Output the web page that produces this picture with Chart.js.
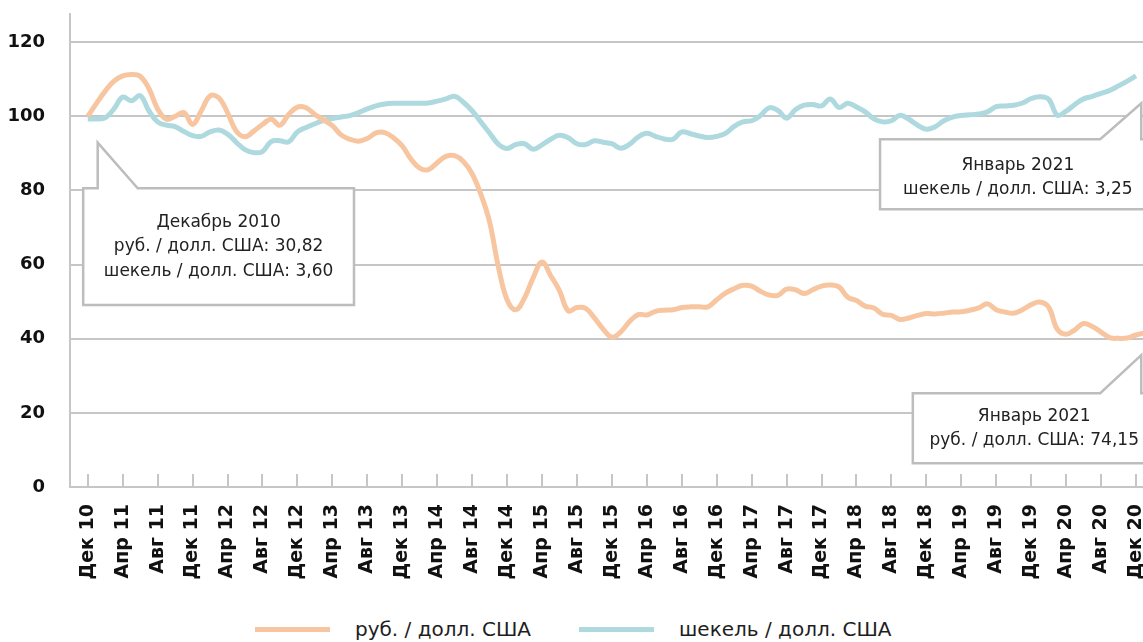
<!DOCTYPE html>
<html>
<head>
<meta charset="utf-8">
<script src="https://cdn.jsdelivr.net/npm/chart.js@4.4.1/dist/chart.umd.min.js"></script>
<style>
  body { margin: 0; background: #fff; }
  #wrap { position: relative; width: 1143px; height: 642px; overflow: hidden; }
  #legend { position: absolute; left: 255px; top: 617px; display: flex; align-items: center;
            font: 20px "DejaVu Sans", sans-serif; color: #1e1e1e; white-space: nowrap; }
  .sw { width: 75px; height: 5px; margin-right: 25px; }
  .gap { width: 48px; }
</style>
</head>
<body>
<div id="wrap">
  <canvas id="myChart" width="1143" height="600"></canvas>
  <div id="legend">
    <span class="sw" style="background:#F7C6A0"></span><span>руб. / долл. США</span>
    <span class="gap"></span>
    <span class="sw" style="background:#ADD9DF"></span><span>шекель / долл. США</span>
  </div>
</div>
<script>
// x labels every 4 months, month index 0 = Dec 2010
const xLabels = ['Дек 10', 'Апр 11', 'Авг 11', 'Дек 11', 'Апр 12', 'Авг 12', 'Дек 12', 'Апр 13', 'Авг 13', 'Дек 13',
    'Апр 14', 'Авг 14', 'Дек 14', 'Апр 15', 'Авг 15', 'Дек 15', 'Апр 16', 'Авг 16', 'Дек 16', 'Апр 17',
    'Авг 17', 'Дек 17', 'Апр 18', 'Авг 18', 'Дек 18', 'Апр 19', 'Авг 19', 'Дек 19', 'Апр 20', 'Авг 20', 'Дек 20'];
const yTicks = [0, 20, 40, 60, 80, 100, 120];

// index, Dec 2010 = 100 (monthly)
const rub = [
    100, 103.5, 106.8, 109.5, 110.9, 111.3, 110.8, 107.5, 102, 99.2,
    100, 101, 97.8, 101.5, 105.5, 105, 101, 96, 94.5, 96,
    97.8, 99.2, 97.6, 100.5, 102.5, 102.3, 100.5, 99, 97.5, 95,
    93.8, 93.3, 94, 95.5, 95.6, 94.2, 92, 88.5, 86, 85.6,
    87.5, 89.2, 89.4, 87.8, 84.5, 79, 71.5, 59.5, 50.5, 47.8,
    51, 56.5, 60.7, 57, 53, 47.5, 48.4, 48.2, 45.6, 42.6,
    40.4, 41.8, 44.6, 46.5, 46.4, 47.4, 47.7, 47.8, 48.4, 48.6,
    48.6, 48.6, 50.5, 52.3, 53.5, 54.4, 54.2, 52.8, 51.8, 51.7,
    53.4, 53.2, 52.2, 53.2, 54.2, 54.5, 54, 51.2, 50.3, 48.8,
    48.3, 46.6, 46.3, 45.2, 45.6, 46.3, 46.8, 46.7, 46.9, 47.2,
    47.3, 47.7, 48.3, 49.4, 47.8, 47.2, 46.9, 47.8, 49.2, 49.9,
    48.5, 42.5, 41.2, 42.4, 44.1, 43.3, 41.8, 40.3, 40.1, 40.2,
    41, 41.6
];
const ils = [
    99.3, 99.3, 99.6, 102, 105.2, 104.2, 105.6, 101.5, 98.5, 97.6,
    97.2, 95.9, 94.8, 94.6, 95.8, 96.3, 95.2, 93, 91, 90.2,
    90.5, 93.2, 93.4, 93.1, 95.8, 97, 98, 98.9, 99.4, 99.8,
    100.2, 101, 102, 102.8, 103.3, 103.5, 103.5, 103.5, 103.5, 103.6,
    104.1, 104.7, 105.4, 103.8, 101.5, 98.5, 95.5, 92.5, 91.3, 92.4,
    92.6, 91.1, 92.3, 93.8, 94.9, 94.2, 92.6, 92.4, 93.4, 93,
    92.6, 91.4, 92.4, 94.4, 95.4, 94.6, 93.9, 93.8, 95.8, 95.3,
    94.7, 94.3, 94.6, 95.4, 97.3, 98.5, 98.8, 100.2, 102.3, 101.6,
    99.5, 101.8, 103, 103.2, 102.8, 104.7, 102.4, 103.5, 102.5, 101.2,
    99.3, 98.5, 98.8, 100.3, 99.2, 97.6, 96.5, 97.2, 98.8, 99.8,
    100.2, 100.4, 100.6, 101.2, 102.6, 102.8, 103, 103.6, 104.8, 105.3,
    104.6, 100.3, 101.4, 103.2, 104.7, 105.4, 106.2, 107, 108.2, 109.5,
    110.9
];

const gridColor = '#C6C6C6';

// callout boxes, in axis units (x = month index, y = index value)
const callouts = [
    { l: -0.52, r: 30.48, t: 80.6, b: 49.1, side: 'left', s1: 1.14, s2: 5.72, tip: 92.9,
      lines: ['Декабрь 2010', 'руб. / долл. США: 30,82', 'шекель / долл. США: 3,60'], dy: [34.5, 58.5, 83.5] },
    { l: 90.7, r: 122.25, t: 93.8, b: 74.9, side: 'right', s1: 120.6, s2: 115.9, tip: 103.5,
      lines: ['Январь 2021', 'шекель / долл. США: 3,25'], dy: [26.5, 50] },
    { l: 94.45, r: 122.25, t: 25.3, b: 6.4, side: 'right', s1: 120.6, s2: 115.9, tip: 35.6,
      lines: ['Январь 2021', 'руб. / долл. США: 74,15'], dy: [23, 47] }
];

const tickMarks = {
    id: 'tickMarks',
    beforeDatasetsDraw(chart) {
        const { ctx, scales: { x }, chartArea } = chart;
        ctx.save();
        ctx.strokeStyle = gridColor;
        ctx.lineWidth = 2;
        x.ticks.forEach(t => {
            const px = Math.round(x.getPixelForValue(t.value));
            ctx.beginPath();
            ctx.moveTo(px, chartArea.bottom);
            ctx.lineTo(px, chartArea.bottom - 13);
            ctx.stroke();
        });
        ctx.restore();
    }
};

const calloutPlugin = {
    id: 'callouts',
    afterDraw(chart) {
        const { ctx, scales: { x, y } } = chart;
        ctx.save();
        callouts.forEach(c => {
            const L = x.getPixelForValue(c.l), R = x.getPixelForValue(c.r);
            const T = y.getPixelForValue(c.t), B = y.getPixelForValue(c.b);
            const s1 = x.getPixelForValue(c.s1), s2 = x.getPixelForValue(c.s2);
            const tip = y.getPixelForValue(c.tip);
            ctx.beginPath();
            ctx.moveTo(L, T);
            if (c.side === 'left') {
                ctx.lineTo(s1, T); ctx.lineTo(s1, tip); ctx.lineTo(s2, T);
            } else {
                ctx.lineTo(s2, T); ctx.lineTo(s1, tip); ctx.lineTo(s1, T);
            }
            ctx.lineTo(R, T);
            ctx.lineTo(R, B);
            ctx.lineTo(L, B);
            ctx.closePath();
            ctx.fillStyle = '#fff';
            ctx.fill();
            ctx.strokeStyle = '#BDBDBD';
            ctx.lineWidth = 2.5;
            ctx.stroke();
            ctx.fillStyle = '#222';
            ctx.font = '17px "DejaVu Sans"';
            ctx.textAlign = 'center';
            ctx.textBaseline = 'middle';
            c.lines.forEach((txt, k) => ctx.fillText(txt, (L + R) / 2, T + c.dy[k]));
        });
        ctx.restore();
    }
};

Chart.defaults.font.family = '"DejaVu Sans", sans-serif';
Chart.defaults.color = '#111';

const ctx = document.getElementById('myChart').getContext('2d');

new Chart(ctx, {
    type: 'line',
    data: {
        datasets: [
            {
                label: 'руб. / долл. США',
                data: rub.map((v, i) => ({ x: i, y: v })),
                borderColor: '#F7C6A0',
                borderWidth: 5,
                pointRadius: 0,
                tension: 0.4,
                fill: false,
            },
            {
                label: 'шекель / долл. США',
                data: ils.map((v, i) => ({ x: i, y: v })),
                borderColor: '#ADD9DF',
                borderWidth: 5,
                pointRadius: 0,
                tension: 0.4,
                fill: false,
            }
        ]
    },
    options: {
        responsive: false,
        animation: false,
        layout: { padding: { top: 14, left: 0, right: 0, bottom: 0 } },
        scales: {
            x: {
                type: 'linear',
                min: -2.03,
                max: 120.8,
                afterBuildTicks: s => { s.ticks = xLabels.map((_, k) => ({ value: k * 4 })); },
                afterFit: s => {
                    s.height = 113;
                    s.paddingLeft = 0; s.paddingRight = 0; s.paddingTop = 0; s.paddingBottom = 0;
                },
                grid: { display: false, drawTicks: false },
                border: { display: true, color: gridColor, width: 2 },
                ticks: {
                    autoSkip: false,
                    minRotation: 90,
                    maxRotation: 90,
                    padding: 17,
                    font: { size: 19, weight: 'bold' },
                    color: '#111',
                    callback: v => xLabels[Math.round(v / 4)]
                }
            },
            y: {
                min: 0,
                max: 127.6,
                afterBuildTicks: s => { s.ticks = yTicks.map(v => ({ value: v })); },
                afterFit: s => {
                    s.width = 70;
                    s.paddingLeft = 0; s.paddingRight = 0; s.paddingTop = 0; s.paddingBottom = 0;
                },
                grid: { color: gridColor, lineWidth: 2, drawTicks: false },
                border: { display: true, color: gridColor, width: 2 },
                ticks: {
                    padding: 25,
                    font: { size: 18, weight: 'bold' },
                    color: '#111'
                }
            }
        },
        plugins: {
            legend: { display: false },
            tooltip: { enabled: false }
        }
    },
    plugins: [tickMarks, calloutPlugin]
});
</script>
</body>
</html>
